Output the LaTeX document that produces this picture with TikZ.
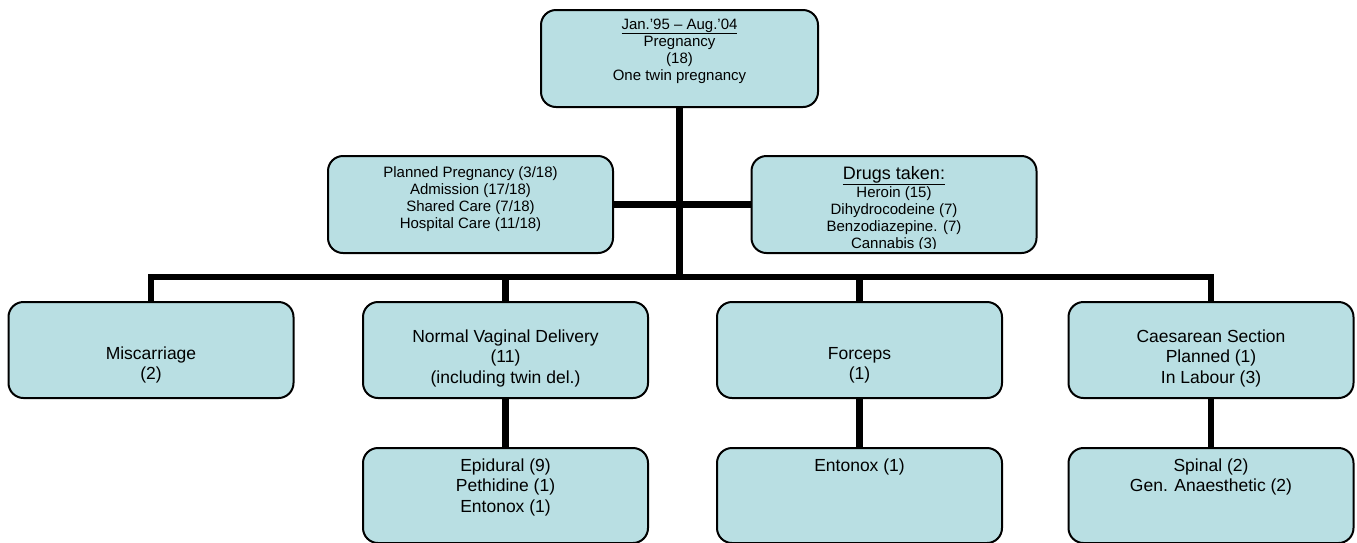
\documentclass[tikz,border=0pt]{standalone}
\usepackage{fontspec}
\setmainfont{Liberation Sans}
\usetikzlibrary{backgrounds}
\definecolor{boxfill}{RGB}{185,223,227}
\newcommand\boxlines[1]{\begin{tabular}[t]{@{}c@{}}#1\end{tabular}}
\tikzset{
  box/.style={draw=black, line width=2pt, fill=boxfill, rounded corners=15pt, inner sep=0pt, minimum width=285pt, minimum height=97pt},
  conn/.style={line width=6.5pt, line cap=butt},
  txt/.style={inner sep=0pt, anchor=base},
  midfont/.style={font=\fontsize{15}{17}\selectfont},
  bigfont/.style={font=\fontsize{17.5}{20.5}\selectfont},
}
\begin{document}
\begin{tikzpicture}[x=1pt,y=-1pt]
\useasboundingbox (0,0) rectangle (1357,542);
\clip (0,0) rectangle (1357,542);
% boxes
\node[box, minimum width=277pt] (top) at (679.5,58.5) {};
\node[box] (midL) at (470.5,204.5) {};
\node[box] (midR) at (894,204.5) {};
\node[box, minimum height=96pt] (mis) at (151,350) {};
\node[box, minimum height=96pt] (nvd) at (505.5,350) {};
\node[box, minimum height=96pt] (forc) at (859.5,350) {};
\node[box, minimum height=96pt] (caes) at (1211,350) {};
\node[box, minimum height=95pt] (epi) at (505.5,495.5) {};
\node[box, minimum height=95pt] (ento) at (859.5,495.5) {};
\node[box, minimum height=95pt] (spin) at (1211,495.5) {};
% connectors
\coordinate (busy) at (0,277);
\begin{pgfonlayer}{background}
\draw[conn] (top.south) -- (top.south |- busy);
\draw[conn] (midL.east) -- (midR.west);
\draw[conn] (mis.north) -- (mis.north |- busy) -- (caes.north |- busy) -- (caes.north);
\draw[conn] (nvd.north |- busy) -- (nvd.north);
\draw[conn] (forc.north |- busy) -- (forc.north);
\draw[conn] (nvd.south) -- (epi.north);
\draw[conn] (forc.south) -- (ento.north);
\draw[conn] (caes.south) -- (spin.north);
\end{pgfonlayer}
% texts
\node[txt, midfont] (ttop) at (679.5,29) {\boxlines{\underline{Jan.'95 – Aug.'04}\\Pregnancy\\(18)\\One twin pregnancy}};
\node[txt, midfont] (tmidL) at (470.5,177) {\boxlines{Planned Pregnancy (3/18)\\Admission (17/18)\\Shared Care (7/18)\\Hospital Care (11/18)}};
\node[txt, font=\fontsize{18}{17}\selectfont] (tdrugs) at (894,179) {\underline{Drugs taken:}};
\begin{scope}
\clip (751,156) rectangle (1037,248.5);
\node[txt, midfont] (tmidR) at (894,197) {\boxlines{Heroin (15)\\Dihydrocodeine (7)\\Benzodiazepine. (7)\\Cannabis (3)}};
\end{scope}
\node[txt, bigfont] (tmis) at (151,359) {\boxlines{Miscarriage\\(2)}};
\node[txt, bigfont] (tnvd) at (505.5,342) {\boxlines{Normal Vaginal Delivery\\(11)\\(including twin del.)}};
\node[txt, bigfont] (tforc) at (859.5,359) {\boxlines{Forceps\\(1)}};
\node[txt, bigfont] (tcaes) at (1211,342) {\boxlines{Caesarean Section\\Planned (1)\\In Labour (3)}};
\node[txt, bigfont] (tepi) at (505.5,471) {\boxlines{Epidural (9)\\Pethidine (1)\\Entonox (1)}};
\node[txt, bigfont] (tento) at (859.5,471) {Entonox (1)};
\node[txt, bigfont] (tspin) at (1211,471) {\boxlines{Spinal (2)\\Gen. Anaesthetic (2)}};
\end{tikzpicture}
\end{document}
